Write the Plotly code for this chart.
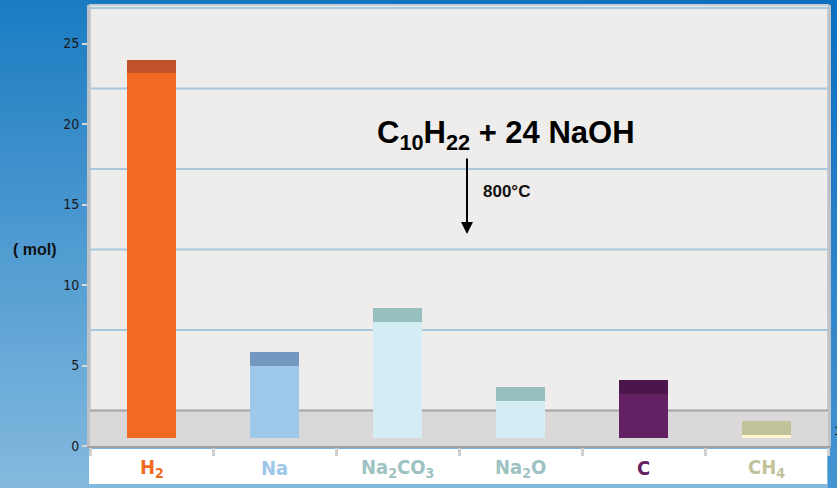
import plotly.graph_objects as go

# ---------------- data ----------------
categories = ["H2", "Na", "Na2CO3", "Na2O", "C", "CH4"]
category_labels = ["H<sub>2</sub>", "Na", "Na<sub>2</sub>CO<sub>3</sub>",
                   "Na<sub>2</sub>O", "C", "CH<sub>4</sub>"]
mol_values = [24.0, 5.85, 8.55, 3.65, 4.1, 1.55]
y_tick_values = [0, 5, 10, 15, 20, 25]
y_label = "( mol)"
equation_text = "C<sub>10</sub>H<sub>22</sub> + 24 NaOH"
condition_text = "800°C"

front_colors = ["#f26922", "#9dc8ea", "#d4ecf4", "#d4ecf4", "#632063", "#fdf6cf"]
top_colors = ["#c0522a", "#7399c0", "#97bfbe", "#97bfbe", "#4b164c", "#c2c29a"]
label_colors = ["#f26922", "#9dc8ea", "#9dc2c2", "#9dc2c2", "#632063", "#c2c29a"]

# ---------------- geometry / style ----------------
W, H = 837, 488
PLOT_L, PLOT_R = 90, 828
PLOT_T, PLOT_B = 5, 446
PX_PER_UNIT = 16.1
FLOOR_DEPTH = 2.2      # pseudo-3D back-wall offset (y units)
BAR_BASE = 0.52        # bars stand in the middle of the floor
CAP = 0.85             # visible top face of the 3D column
BAR_WIDTH = 0.40
NARROW = "DejaVu Sans Condensed, Liberation Sans Narrow, Arial Narrow, Liberation Sans, sans-serif"
SANS = "Liberation Sans, Arial, sans-serif"


def px(xp):
    return xp / W


def py(yp):
    return 1 - yp / H


def lerp(c1, c2, t):
    a = [int(c1[i:i + 2], 16) for i in (1, 3, 5)]
    b = [int(c2[i:i + 2], 16) for i in (1, 3, 5)]
    return "#" + "".join(f"{round(a[k] + (b[k] - a[k]) * t):02x}" for k in range(3))


shapes = []
# background gradient (left/main)
N = 61
for i in range(N):
    shapes.append(dict(type="rect", xref="paper", yref="paper",
                       x0=0, x1=1, y0=py((i + 1) * H / N) - 0.001, y1=py(i * H / N),
                       fillcolor=lerp("#1a7bc2", "#84badf", (i + 0.5) / N),
                       line=dict(width=0), layer="below"))
# right stripe gradient
N2 = 40
for i in range(N2):
    shapes.append(dict(type="rect", xref="paper", yref="paper",
                       x0=px(PLOT_R), x1=1, y0=py((i + 1) * H / N2) - 0.001, y1=py(i * H / N2),
                       fillcolor=lerp("#0b6fc0", "#4594d2", (i + 0.5) / N2),
                       line=dict(width=0), layer="below"))
# top strip
N3 = 12
for i in range(N3):
    xa = PLOT_L + (PLOT_R - PLOT_L) * i / N3
    xb = PLOT_L + (PLOT_R - PLOT_L) * (i + 1) / N3
    shapes.append(dict(type="rect", xref="paper", yref="paper",
                       x0=px(xa), x1=px(xb) + 0.001, y0=py(PLOT_T), y1=1,
                       fillcolor=lerp("#1779c2", "#0b6fc0", (i + 0.5) / N3),
                       line=dict(width=0), layer="below"))
# back wall
shapes.append(dict(type="rect", xref="paper", yref="paper",
                   x0=px(PLOT_L), x1=px(PLOT_R), y0=py(PLOT_B), y1=py(PLOT_T),
                   fillcolor="#efedeb", line=dict(color="#c5ccd3", width=2), layer="below"))
# white label strip
shapes.append(dict(type="rect", xref="paper", yref="paper",
                   x0=px(PLOT_L - 1), x1=px(PLOT_R - 1), y0=py(484), y1=py(449),
                   fillcolor="#ffffff", line=dict(width=0), layer="below"))
# floor
shapes.append(dict(type="rect", xref="x", yref="y", x0=-0.5, x1=5.5, y0=0, y1=FLOOR_DEPTH,
                   fillcolor="#dad8d9", line=dict(width=0), layer="below"))
# back-wall grid lines (offset by the floor depth)
g = FLOOR_DEPTH + 5
while g < (PLOT_B - PLOT_T) / PX_PER_UNIT:
    shapes.append(dict(type="line", xref="x", yref="y", x0=-0.5, x1=5.5, y0=g, y1=g,
                       line=dict(color="#a9c7dd", width=2), layer="below"))
    g += 5
shapes.append(dict(type="line", xref="x", yref="y", x0=-0.5, x1=5.5,
                   y0=FLOOR_DEPTH, y1=FLOOR_DEPTH,
                   line=dict(color="#a3a1a2", width=2), layer="between"))

fig = go.Figure()
fig.add_trace(go.Bar(
    x=categories,
    y=[v - CAP - BAR_BASE for v in mol_values],
    base=BAR_BASE,
    width=BAR_WIDTH,
    marker=dict(color=front_colors, line=dict(width=0)),
    hoverinfo="skip", showlegend=False))
fig.add_trace(go.Bar(
    x=categories,
    y=[CAP] * len(mol_values),
    base=[v - CAP for v in mol_values],
    width=BAR_WIDTH,
    marker=dict(color=top_colors, line=dict(width=0)),
    hoverinfo="skip", showlegend=False))

y_range = [0, (PLOT_B - PLOT_T) / PX_PER_UNIT]
y_domain = [py(PLOT_B), py(PLOT_T)]

annotations = []
for cat, lab, col in zip(categories, category_labels, label_colors):
    annotations.append(dict(x=cat, xref="x", y=py(468), yref="paper",
                            text=f"<b>{lab}</b>", showarrow=False,
                            font=dict(family=NARROW, size=20, color=col),
                            xanchor="center", yanchor="middle"))
annotations += [
    dict(x=px(35), y=py(249), xref="paper", yref="paper", text=f"<b>{y_label}</b>",
         xanchor="center", yanchor="middle",
         showarrow=False, font=dict(family=SANS, size=16, color="#111111")),
    dict(x=px(506), y=py(135), xref="paper", yref="paper", text=f"<b>{equation_text}</b>",
         xanchor="center", yanchor="middle",
         showarrow=False, font=dict(family=SANS, size=31, color="#000000")),
    dict(x=px(506), y=py(191), xref="paper", yref="paper", text=f"<b>{condition_text}</b>",
         xanchor="center", yanchor="middle",
         showarrow=False, font=dict(family=SANS, size=17, color="#111111")),
    dict(x=px(467), y=py(234), xref="paper", yref="paper", text="",
         showarrow=True, ax=0, ay=-77, axref="pixel", ayref="pixel",
         arrowhead=2, arrowsize=1.2, arrowwidth=2, arrowcolor="#000000", standoff=0),
    dict(x=px(832), y=py(430), xref="paper", yref="paper", text="1",
         xanchor="left", yanchor="middle",
         showarrow=False, font=dict(family=SANS, size=13, color="#1a1a1a")),
]

fig.update_layout(
    width=W, height=H,
    margin=dict(l=0, r=0, t=0, b=0, pad=0, autoexpand=False),
    paper_bgcolor="#4f9ad0",
    plot_bgcolor="rgba(0,0,0,0)",
    barmode="overlay",
    bargap=0,
    showlegend=False,
    shapes=shapes,
    annotations=annotations,
    xaxis=dict(domain=[px(PLOT_L), px(PLOT_R)], range=[-0.5, 5.5], automargin=False,
               type="category", categoryorder="array", categoryarray=categories,
               showticklabels=False, ticks="outside", tickson="boundaries",
               ticklen=8, tickwidth=3, tickcolor="#cfcfcf",
               showline=True, linecolor="#a3a1a2", linewidth=2,
               showgrid=False, zeroline=False, fixedrange=True),
    yaxis=dict(domain=y_domain, range=y_range, automargin=False,
               tickmode="array", tickvals=y_tick_values,
               ticks="outside", ticklen=5, tickwidth=2, tickcolor="#d8d8d8",
               tickfont=dict(family=NARROW, size=14, color="#1a1a1a"),
               showline=True, linecolor="#bcc2c8", linewidth=3, mirror=True,
               showgrid=False, zeroline=False, fixedrange=True),
)

fig.write_html(
    "out.html",
    config={"displayModeBar": False},
    post_script="document.body.style.margin='0';document.body.style.overflow='hidden';",
)
